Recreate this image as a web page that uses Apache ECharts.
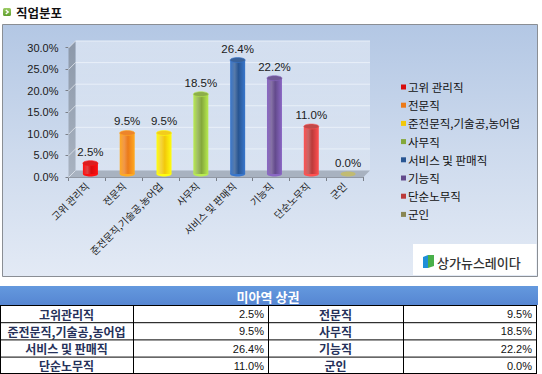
<!DOCTYPE html>
<html><head><meta charset="utf-8">
<script src="https://cdn.jsdelivr.net/npm/echarts@6/dist/echarts.min.js"></script>
<style>html,body{margin:0;padding:0;background:#fff;}#c{width:542px;height:374px;}</style>
</head><body><div id="c"></div>
<script>
// ---- data ----
const pageTitle = '직업분포';
const categories = ['고위 관리직','전문직','준전문직,기술공,농어업','사무직','서비스 및 판매직','기능직','단순노무직','군인'];
const tableLabels = ['고위관리직','전문직','준전문직,기술공,농어업','사무직','서비스 및 판매직','기능직','단순노무직','군인'];
const values = [2.5, 9.5, 9.5, 18.5, 26.4, 22.2, 11.0, 0.0];
const yTicks = [0, 5, 10, 15, 20, 25, 30];
const tableTitle = '미아역 상권';
const brandName = '상가뉴스레이다';
const barColors = ['#d80c0c','#ec7a18','#f2c80a','#84a83a','#285592','#634a8c','#bb3a3a','#8a8652'];

// ---- render ----
const KR = '"Noto Sans CJK KR", sans-serif';
const LAT = '"Liberation Sans", Arial, sans-serif';
const LG = echarts.graphic.LinearGradient;
const D = 3.5;

const chart = echarts.init(document.getElementById('c'), null, {renderer: 'svg', width: 542, height: 374});

function fmt(v) { return v.toFixed(1) + '%'; }

function wallsItem(params, api) {
  const cs = params.coordSys;
  const L = cs.x, T = cs.y, R = cs.x + cs.width, B = cs.y + cs.height;
  const ch = [];
  ch.push({type: 'rect', shape: {x: L + D, y: T - D, width: R - L, height: B - T},
    style: {fill: new LG(0, 0, 0, 1, [{offset: 0, color: 'rgba(255,255,255,0.40)'}, {offset: 1, color: 'rgba(255,255,255,0.18)'}])}});
  ch.push({type: 'polygon', shape: {points: [[L - D, T + D], [L + D, T - D], [L + D, B - D], [L - D, B + D]]},
    style: {fill: new LG(0, 0, 0, 1, [{offset: 0, color: '#8c98a9'}, {offset: 1, color: '#a9b3c1'}])}});
  ch.push({type: 'polygon', shape: {points: [[L - D, B + D], [R - D, B + D], [R + D, B - D], [L + D, B - D]]},
    style: {fill: '#a8b2c0'}});
  yTicks.forEach(function (t) {
    const y = api.coord([0, t])[1];
    if (t > 0) {
      ch.push({type: 'line', shape: {x1: L + D, y1: y - D, x2: R + D, y2: y - D}, style: {stroke: 'rgba(235,242,250,0.9)', lineWidth: 1}});
    }
    ch.push({type: 'line', shape: {x1: L - D, y1: y + D, x2: L + D, y2: y - D}, style: {stroke: 'rgba(225,230,238,0.8)', lineWidth: 1}});
  });
  return {type: 'group', children: ch};
}

function cylinder(color) {
  return function (params, api) {
    const x = api.value(0), v = api.value(1);
    const top = api.coord([x, v]);
    const base = api.coord([x, 0]);
    const w = 15, eh = 5, cx = top[0];
    const dark = echarts.color.lift(color, -0.4);
    const light = echarts.color.lift(color, 0.22);
    const grad = new LG(0, 0, 1, 0, [
      {offset: 0, color: dark}, {offset: 0.3, color: light}, {offset: 0.55, color: color}, {offset: 1, color: dark}]);
    const ch = [];
    ch.push({type: 'ellipse', shape: {cx: cx, cy: base[1], rx: w / 2, ry: eh / 2}, style: {fill: dark}});
    if (base[1] - top[1] > 0.5) {
      ch.push({type: 'rect', shape: {x: cx - w / 2, y: top[1], width: w, height: base[1] - top[1]}, style: {fill: grad}});
      ch.push({type: 'ellipse', shape: {cx: cx, cy: top[1], rx: w / 2, ry: eh / 2},
        style: {fill: echarts.color.lift(color, 0.08), stroke: dark, lineWidth: 0.6}});
    }
    ch.push({type: 'text', style: {text: fmt(v), x: cx, y: top[1] - eh / 2 - 3, align: 'center', verticalAlign: 'bottom',
      font: '11.5px ' + LAT, fill: '#1a1a1a'}});
    return {type: 'group', children: ch};
  };
}

const series = [{
  type: 'custom', name: '_walls', xAxisIndex: 0, yAxisIndex: 0, z: 1, clip: false,
  data: [[0, 0]], renderItem: wallsItem, silent: true, legendHoverLink: false
}];
categories.forEach(function (c, i) {
  series.push({
    type: 'custom', name: c, xAxisIndex: 0, yAxisIndex: 0, z: 3, clip: false,
    itemStyle: {color: barColors[i]},
    data: [[i, values[i]]], renderItem: cylinder(barColors[i])
  });
});

// table graphics
const tbl = [];
const colX = [0, 133, 268, 403, 536];
const rowY0 = 305, rowH = 17.2;
tbl.push({type: 'rect', shape: {x: 0, y: 286, width: 538, height: 19},
  style: {fill: new LG(0, 0, 0, 1, [{offset: 0, color: '#6499de'}, {offset: 1, color: '#5686d2'}])}});
tbl.push({type: 'text', style: {text: tableTitle, x: 268, y: 296, align: 'center', verticalAlign: 'middle',
  font: 'bold 13px ' + KR, fill: '#ffffff'}});
for (let r = 0; r < 4; r++) {
  const y = rowY0 + r * rowH;
  for (let k = 0; k < 2; k++) {
    const idx = r * 2 + k;
    const x0 = colX[k * 2], x1 = colX[k * 2 + 1], x2 = colX[k * 2 + 2];
    tbl.push({type: 'text', style: {text: tableLabels[idx], x: (x0 + x1) / 2, y: y + rowH / 2 + 0.5, align: 'center',
      verticalAlign: 'middle', font: 'bold 12px ' + KR, fill: '#26315a'}});
    tbl.push({type: 'text', style: {text: fmt(values[idx]), x: x2 - 4, y: y + rowH / 2 + 0.5, align: 'right',
      verticalAlign: 'middle', font: '11px ' + LAT, fill: '#111'}});
  }
  tbl.push({type: 'line', shape: {x1: 0, y1: y + 0.5, x2: 536.5, y2: y + 0.5}, style: {stroke: '#000', lineWidth: 1}});
}
tbl.push({type: 'line', shape: {x1: 0, y1: 373.5, x2: 536.5, y2: 373.5}, style: {stroke: '#000', lineWidth: 1}});
colX.forEach(function (x) {
  tbl.push({type: 'line', shape: {x1: x + 0.5, y1: rowY0, x2: x + 0.5, y2: 374}, style: {stroke: '#000', lineWidth: 1}});
});

const graphics = [
  {type: 'rect', z: -10, shape: {x: 2.5, y: 24.5, width: 535, height: 252},
    style: {fill: new LG(0, 0, 0, 1, [{offset: 0, color: '#b3c7e4'}, {offset: 0.5, color: '#cddaed'}, {offset: 1, color: '#e3eaf5'}]),
      stroke: '#8a8e94', lineWidth: 1}},
  {type: 'rect', shape: {x: 3, y: 8, width: 8, height: 8, r: 1.5},
    style: {fill: new LG(0, 0, 0, 1, [{offset: 0, color: '#9ccc64'}, {offset: 1, color: '#5f9e2e'}])}},
  {type: 'polyline', shape: {points: [[5.8, 10], [8.2, 12], [5.8, 14]]}, style: {stroke: '#fff', lineWidth: 1.4, fill: null}},
  {type: 'text', style: {text: pageTitle, x: 16, y: 12, verticalAlign: 'middle', font: 'bold 12.5px ' + KR, fill: '#111'}},
  // brand box
  {type: 'rect', shape: {x: 413, y: 244, width: 123.5, height: 31}, style: {fill: '#ffffff'}},
  {type: 'polygon', shape: {points: [[423, 257], [428, 255], [428, 268], [423, 268]]}, style: {fill: '#1f8fd8'}},
  {type: 'polygon', shape: {points: [[428, 255], [434, 255], [434, 266], [428, 268]]}, style: {fill: '#49b04a'}},
  {type: 'text', style: {text: brandName, x: 437, y: 262, verticalAlign: 'middle', font: '500 13px ' + KR, fill: '#333'}}
].concat(tbl);

chart.setOption({
  animation: false,
  backgroundColor: '#ffffff',
  textStyle: {fontFamily: KR},
  grid: [
    {left: 72, top: 44.5, width: 294.5, height: 129.5, containLabel: false},
    {left: 68.5, top: 47.5, width: 294.5, height: 129.5, containLabel: false}
  ],
  xAxis: [
    {type: 'category', gridIndex: 0, data: categories, show: false},
    {type: 'category', gridIndex: 1, data: categories, boundaryGap: true,
      axisLine: {lineStyle: {color: '#7a7f88'}},
      axisTick: {show: true, length: 4, lineStyle: {color: '#7a7f88'}},
      axisLabel: {interval: 0, rotate: 45, margin: 7, fontSize: 10, fontFamily: KR, color: '#222'}}
  ],
  yAxis: [
    {type: 'value', gridIndex: 0, min: 0, max: 30, interval: 5, show: false},
    {type: 'value', gridIndex: 1, min: 0, max: 30, interval: 5,
      axisLine: {show: false},
      axisTick: {show: true, length: 3, lineStyle: {color: '#7a7f88'}},
      splitLine: {show: false},
      axisLabel: {margin: 10, fontSize: 11, fontFamily: LAT, color: '#1a1a1a', formatter: function (v) { return fmt(v); }}}
  ],
  legend: {
    orient: 'vertical', left: 401, top: 80.5, padding: 0, itemWidth: 5, itemHeight: 5, icon: 'rect', itemGap: 5.2,
    selectedMode: false,
    data: categories,
    textStyle: {fontSize: 11.5, fontFamily: KR, color: '#111', lineHeight: 13, padding: [0, 0, 0, -3]}
  },
  graphic: graphics,
  series: series
});
</script>
</body></html>
